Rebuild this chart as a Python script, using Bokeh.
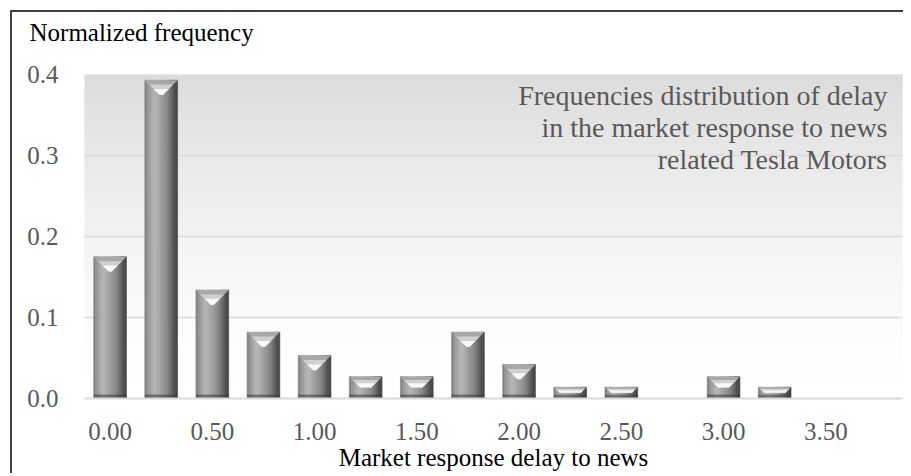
import numpy as np
from bokeh.plotting import figure
from bokeh.models import FixedTicker, NumeralTickFormatter, Label, Title
from bokeh.embed import file_html
from bokeh.resources import INLINE

# ---- data ----
delay = [0.00, 0.25, 0.50, 0.75, 1.00, 1.25, 1.50, 1.75,
         2.00, 2.25, 2.50, 2.75, 3.00, 3.25, 3.50, 3.75]
freq = [0.175, 0.393, 0.134, 0.082, 0.053, 0.027, 0.027, 0.082,
        0.042, 0.014, 0.014, 0.0, 0.027, 0.014, 0.0, 0.0]
x_ticks = [0.0, 0.5, 1.0, 1.5, 2.0, 2.5, 3.0, 3.5]
y_ticks = [0.0, 0.1, 0.2, 0.3, 0.4]
title_text = "Normalized frequency"
x_title = "Market response delay to news"
note_lines = ["Frequencies distribution of delay",
              "in the market response to news",
              "related Tesla Motors"]

# ---- layout ----
X0, X1 = -0.125, 3.875
Y0, Y1 = 0.0, 0.4
FW, FH = 818, 324
PX_X = FW / (X1 - X0)
PX_Y = FH / (Y1 - Y0)
FONT = "Liberation Serif"
GRAY_TXT = "#595959"

p = figure(frame_width=FW, frame_height=FH, x_range=(X0, X1), y_range=(Y0, Y1),
           output_backend="svg", toolbar_location=None,
           min_border_left=72, min_border_right=1, min_border_top=62,
           min_border_bottom=0, title=title_text)
p.styles = {"border-top": "2px solid #404040", "border-left": "2px solid #404040",
            "margin-top": "10px", "margin-left": "10px"}
p.outline_line_color = None
p.background_fill_color = "white"
p.border_fill_color = "white"

p.title.text_font = FONT
p.title.text_font_size = "25px"
p.title.text_font_style = "normal"
p.title.text_color = "black"
p.title.align = "left"
p.title.vertical_align = "top"
p.title.offset = -55
p.title.standoff = 0
# empty spacer between the plot area and the caption
p.add_layout(Title(text=" ", text_font_size="1px", standoff=24), "above")

# axes
p.xaxis.ticker = FixedTicker(ticks=x_ticks)
p.xaxis.formatter = NumeralTickFormatter(format="0.00")
p.yaxis.ticker = FixedTicker(ticks=y_ticks)
p.yaxis.formatter = NumeralTickFormatter(format="0.0")
for ax in (p.xaxis, p.yaxis):
    ax.major_tick_line_color = None
    ax.minor_tick_line_color = None
    ax.major_label_text_font = FONT
    ax.major_label_text_font_size = "25px"
    ax.major_label_text_color = GRAY_TXT
p.yaxis.axis_line_color = None
p.yaxis.major_label_standoff = 20
p.xaxis.axis_line_color = "#d9d9d9"
p.xaxis.axis_line_width = 2
p.xaxis.major_label_standoff = 18
p.xaxis.axis_label = x_title
p.xaxis.axis_label_text_font = FONT
p.xaxis.axis_label_text_font_size = "25px"
p.xaxis.axis_label_text_font_style = "normal"
p.xaxis.axis_label_text_color = "black"
p.xaxis.axis_label_standoff = 1

p.xgrid.visible = False
p.ygrid.ticker = FixedTicker(ticks=y_ticks)
p.ygrid.grid_line_color = "#d9d9d9"
p.ygrid.grid_line_width = 1.5

# background vertical gradient
nb = 80
edges = np.linspace(Y0, Y1, nb + 1)
mids = (edges[:-1] + edges[1:]) / 2
cols = []
for m in mids:
    g = int(round(255 - 35 * (m / Y1) ** 1.5))
    cols.append("#%02x%02x%02x" % (g, g, g))
p.quad(left=X0, right=X1, bottom=edges[:-1], top=edges[1:],
       fill_color=cols, line_color=cols, line_width=1, level="image")

# bars with bevel shading
xs = np.array(delay)
vs = np.array(freq)
m = vs > 0
xb, vb = xs[m], vs[m]
BW = 0.16
prof_f = [0.0, 0.08, 0.3, 0.5, 0.7, 0.85, 0.95, 1.0]
prof_g = [0x7a, 0x92, 0xb8, 0xa0, 0x86, 0x60, 0x42, 0x50]
N = 16
sw = BW / N
for i in range(N):
    f = (i + 0.5) / N
    g = int(np.interp(f, prof_f, prof_g))
    c = "#%02x%02x%02x" % (g, g, g)
    p.vbar(x=xb - BW / 2 + (i + 0.5) * sw, width=sw, top=vb, bottom=0,
           fill_color=c, line_color=c, line_width=0.6)

# bottom dark bevel
hpx = vb * PX_Y
bpx = np.minimum(4.0, hpx / 3)
p.vbar(x=xb, width=BW, top=bpx / PX_Y, bottom=0, fill_color="#3c3c3c",
       fill_alpha=0.55, line_color=None)

# top bevel (trapezoid / triangle)
dpx = np.minimum(BW * PX_X / 2 * 0.9, hpx / 2)
for frac, col in ((0.0, "#a8a8a8"), (0.3, "#d0d0d0"), (0.6, "#f8f8f8")):
    xsp, ysp = [], []
    for x, v, d in zip(xb, vb, dpx):
        dx = d / PX_X
        dy = d / PX_Y
        xl = x - BW / 2 + frac * dx
        xr = x + BW / 2 - frac * dx
        yt = v - frac * dy
        xsp.append([xl, xr, x + BW / 2 - dx, x - BW / 2 + dx])
        ysp.append([yt, yt, v - dy, v - dy])
    p.patches(xs=xsp, ys=ysp, fill_color=col, line_color=None)

# annotation text
note_x = X0 + (887 - 84) / PX_X
for k, line in enumerate(note_lines):
    yb = Y1 - (21 + 32 * k) / PX_Y
    p.add_layout(Label(x=note_x, y=yb, text=line, text_align="right",
                       text_baseline="alphabetic", text_font=FONT,
                       text_font_size="28px", text_color=GRAY_TXT))

open("out.html", "w").write(file_html(p, INLINE))
